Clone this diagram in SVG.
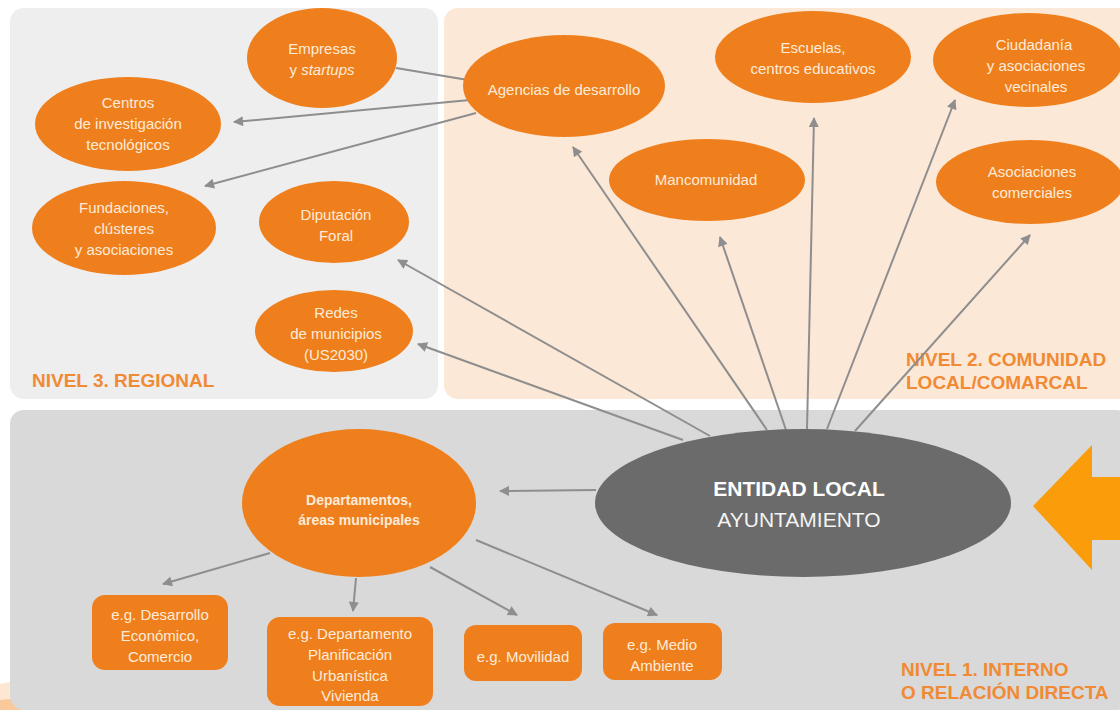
<svg xmlns="http://www.w3.org/2000/svg" width="1120" height="710" viewBox="0 0 1120 710">
<style>
.node{fill:#ef7f1c}
.t{font-family:"Liberation Sans",Arial,sans-serif;font-size:15px;fill:#fdebd9;text-anchor:middle}
.b{font-weight:bold}
.lvl{font-family:"Liberation Sans",Arial,sans-serif;font-size:19px;font-weight:bold;fill:#f08a34}
.c{stroke:#8e8e8e;stroke-width:2;fill:none}
.ca{stroke:#8e8e8e;stroke-width:2;fill:none;marker-end:url(#ah)}
</style>
<defs>
<marker id="ah" viewBox="0 0 10 10" refX="9" refY="5" markerWidth="11" markerHeight="10" markerUnits="userSpaceOnUse" orient="auto">
<path d="M0,0 L10,5 L0,10 Z" fill="#8e8e8e"/>
</marker>
</defs>
<rect width="1120" height="710" fill="#ffffff"/>
<g id="panels">
<rect x="10" y="8" width="428" height="391" rx="14" fill="#eeeeef"/>
<rect x="444" y="8" width="690" height="391" rx="14" fill="#fce8d6"/>
<path d="M0,684 L40,676 L40,710 L0,710 Z" fill="#fde6d2"/>
<path d="M0,700 L30,697 L30,710 L0,710 Z" fill="#f9c99c"/>
<rect x="10" y="410" width="1120" height="300" rx="14" fill="#d9d9d9"/>
</g>
<g id="labels">
<text class="lvl" x="32" y="387">NIVEL 3. REGIONAL</text>
<text class="lvl" x="906" y="366">NIVEL 2. COMUNIDAD</text>
<text class="lvl" x="906" y="389">LOCAL/COMARCAL</text>
<text class="lvl" x="901" y="676">NIVEL 1. INTERNO</text>
<text class="lvl" x="901" y="699">O RELACIÓN DIRECTA</text>
</g>
<g id="connectors">
<line class="c" x1="396" y1="68" x2="468" y2="80"/>
<line class="ca" x1="470" y1="100" x2="234" y2="122"/>
<line class="ca" x1="476" y1="113" x2="205" y2="186"/>
<line class="ca" x1="710" y1="436" x2="398" y2="260"/>
<line class="ca" x1="683" y1="440" x2="418" y2="344"/>
<line class="ca" x1="767" y1="430" x2="573" y2="147"/>
<line class="ca" x1="786" y1="430" x2="720" y2="237"/>
<line class="ca" x1="807" y1="429" x2="814" y2="118"/>
<line class="ca" x1="827" y1="429" x2="955" y2="100"/>
<line class="ca" x1="855" y1="431" x2="1030" y2="235"/>
<line class="ca" x1="596" y1="490" x2="500" y2="491"/>
<line class="ca" x1="270" y1="553" x2="163" y2="584"/>
<line class="ca" x1="356" y1="578" x2="353" y2="611"/>
<line class="ca" x1="430" y1="567" x2="517" y2="615"/>
<line class="ca" x1="476" y1="540" x2="657" y2="615"/>
</g>
<g id="empresas">
<ellipse class="node" cx="322" cy="58" rx="75" ry="50"/>
<text class="t" x="322" y="54">Empresas</text>
<text class="t" x="322" y="75">y <tspan font-style="italic">startups</tspan></text>
</g>
<g id="centros">
<ellipse class="node" cx="128" cy="124" rx="93" ry="47"/>
<text class="t" x="128" y="108">Centros</text>
<text class="t" x="128" y="129">de investigación</text>
<text class="t" x="128" y="150">tecnológicos</text>
</g>
<g id="fundaciones">
<ellipse class="node" cx="124" cy="228" rx="92" ry="47"/>
<text class="t" x="124" y="213">Fundaciones,</text>
<text class="t" x="124" y="234">clústeres</text>
<text class="t" x="124" y="255">y asociaciones</text>
</g>
<g id="diputacion">
<ellipse class="node" cx="334" cy="222" rx="75" ry="41"/>
<text class="t" x="336" y="220">Diputación</text>
<text class="t" x="336" y="241">Foral</text>
</g>
<g id="redes">
<ellipse class="node" cx="334" cy="331" rx="79" ry="41"/>
<text class="t" x="336" y="318">Redes</text>
<text class="t" x="336" y="339">de municipios</text>
<text class="t" x="336" y="360">(US2030)</text>
</g>
<g id="agencias">
<ellipse class="node" cx="564" cy="86" rx="101" ry="51"/>
<text class="t" x="564" y="95">Agencias de desarrollo</text>
</g>
<g id="escuelas">
<ellipse class="node" cx="813" cy="57" rx="98" ry="46"/>
<text class="t" x="813" y="53">Escuelas,</text>
<text class="t" x="813" y="74">centros educativos</text>
</g>
<g id="ciudadania">
<ellipse class="node" cx="1028" cy="60" rx="95" ry="47"/>
<text class="t" x="1034" y="50">Ciudadanía</text>
<text class="t" x="1036" y="71">y asociaciones</text>
<text class="t" x="1036" y="92">vecinales</text>
</g>
<g id="mancomunidad">
<ellipse class="node" cx="707" cy="180" rx="98" ry="41"/>
<text class="t" x="706" y="185">Mancomunidad</text>
</g>
<g id="comerciales">
<ellipse class="node" cx="1030" cy="182" rx="94" ry="42"/>
<text class="t" x="1032" y="177">Asociaciones</text>
<text class="t" x="1032" y="198">comerciales</text>
</g>
<g id="entidad">
<ellipse cx="803" cy="503" rx="208" ry="74" fill="#6b6b6b"/>
<text class="t b" x="799" y="496" style="font-size:21px;fill:#ffffff">ENTIDAD LOCAL</text>
<text class="t" x="799" y="527" style="font-size:21px;fill:#f4f4f4">AYUNTAMIENTO</text>
</g>
<g id="departamentos">
<ellipse class="node" cx="359" cy="503" rx="117" ry="74"/>
<text class="t b" x="359" y="505" style="font-size:14px">Departamentos,</text>
<text class="t b" x="359" y="525" style="font-size:14px">áreas municipales</text>
</g>
<g id="desarrollo">
<rect class="node" x="92" y="595" width="136" height="75" rx="13"/>
<text class="t" x="160" y="620">e.g. Desarrollo</text>
<text class="t" x="160" y="641">Económico,</text>
<text class="t" x="160" y="662">Comercio</text>
</g>
<g id="planificacion">
<rect class="node" x="267" y="617" width="166" height="89" rx="13"/>
<text class="t" x="350" y="639">e.g. Departamento</text>
<text class="t" x="350" y="660">Planificación</text>
<text class="t" x="350" y="681">Urbanística</text>
<text class="t" x="350" y="701">Vivienda</text>
</g>
<g id="movilidad">
<rect class="node" x="464" y="625" width="118" height="56" rx="12"/>
<text class="t" x="523" y="662">e.g. Movilidad</text>
</g>
<g id="medio">
<rect class="node" x="603" y="623" width="119" height="57" rx="12"/>
<text class="t" x="662" y="650">e.g. Medio</text>
<text class="t" x="662" y="671">Ambiente</text>
</g>
<g id="big-arrow">
<path d="M1033,506 L1092,445 L1092,477 L1120,477 L1120,540 L1092,540 L1092,570 Z" fill="#fb9c0a"/>
</g>
</svg>
